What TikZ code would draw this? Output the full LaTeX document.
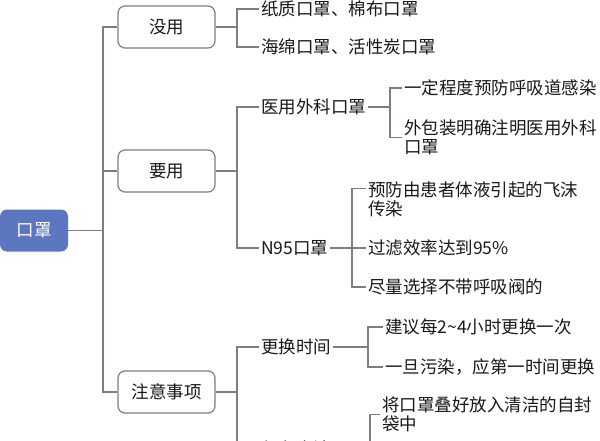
\documentclass[tikz,border=0pt]{standalone}
\usepackage{fontspec}
\newfontfamily\cjk{Noto Sans CJK SC}
\definecolor{lnc}{RGB}{125,125,132}
\definecolor{rootc}{RGB}{92,119,192}
\definecolor{txc}{RGB}{25,25,25}
\begin{document}
\begin{tikzpicture}[x=1pt,y=-1pt,
  font=\cjk\fontsize{17.5}{19.5}\selectfont,
  lnk/.style={draw=lnc, line width=1.2pt},
  box/.style={draw=lnc, rounded corners=7pt, minimum width=97pt, minimum height=42pt, inner sep=0pt, line width=1.2pt, fill=white, text=txc},
  leaf/.style={anchor=west, inner xsep=2pt, inner ysep=1pt, align=left, text=txc}]
\useasboundingbox (0,0) rectangle (600,441);
\clip (0,0) rectangle (600,441);
\fill[white] (0,0) rectangle (600,441);

\node[fill=rootc, rounded corners=7pt, minimum width=68pt, minimum height=42pt, inner sep=0pt, text=white] (root) at (34,230.5) {口罩};
\node[box] (b1) at (166.5,27) {没用};
\node[box] (b2) at (166.5,171) {要用};
\node[box] (b3) at (166.5,392) {注意事项};

\node[leaf] (l1) at (259,9) {纸质口罩、棉布口罩};
\node[leaf] (l2) at (259,47) {海绵口罩、活性炭口罩};
\node[leaf] (m1) at (259,107) {医用外科口罩};
\node[leaf] (m2) at (259,248) {N95口罩};
\node[leaf] (m11) at (402,88) {一定程度预防呼吸道感染};
\node[leaf] (m12) at (402,137.5) {外包装明确注明医用外科\\口罩};
\node[leaf] (m21) at (366,199.5) {预防由患者体液引起的飞沫\\传染};
\node[leaf] (m22) at (366,248) {过滤效率达到95\%};
\node[leaf] (m23) at (366,287) {尽量选择不带呼吸阀的};
\node[leaf] (n1) at (259,347) {更换时间};
\node[leaf] (n2) at (259,449) {保存方法};
\node[leaf] (n11) at (383,327) {建议每2\textasciitilde4小时更换一次};
\node[leaf] (n12) at (383,367) {一旦污染，应第一时间更换};
\node[leaf] (n21) at (380,414.5) {将口罩叠好放入清洁的自封\\袋中};

\coordinate (T) at (103,230.5);
\coordinate (J1) at (237,27);
\coordinate (J2) at (237,171);
\coordinate (J3) at (237,392);
\coordinate (J4) at (390,107);
\coordinate (J5) at (352,248);
\coordinate (J6) at (368,347);
\coordinate (J7) at (370,449);

\draw[lnk] (root.east) -- (T);
\draw[lnk] (b1.west) -| (T);
\draw[lnk] (b2.west) -| (T);
\draw[lnk] (b3.west) -| (T);

\draw[lnk] (b1.east) -- (J1);
\draw[lnk] (l1.west) -| (J1);
\draw[lnk] (l2.west) -| (J1);

\draw[lnk] (b2.east) -- (J2);
\draw[lnk] (m1.west) -| (J2);
\draw[lnk] (m2.west) -| (J2);

\draw[lnk] (b3.east) -- (J3);
\draw[lnk] (n1.west) -| (J3);
\draw[lnk] (n2.west) -| (J3);

\draw[lnk] (m1.east) -- (J4);
\draw[lnk] (m11.west) -| (J4);
\draw[lnk] (m12.west) -| (J4);

\draw[lnk] (m2.east) -- (J5);
\draw[lnk] ([yshift=11pt]m21.west) -| (J5);
\draw[lnk] (m22.west) -| (J5);
\draw[lnk] (m23.west) -| (J5);

\draw[lnk] (n1.east) -- (J6);
\draw[lnk] (n11.west) -| (J6);
\draw[lnk] (n12.west) -| (J6);

\draw[lnk] (n2.east) -- (J7);
\draw[lnk] (n21.west) -| (J7);
\end{tikzpicture}
\end{document}
